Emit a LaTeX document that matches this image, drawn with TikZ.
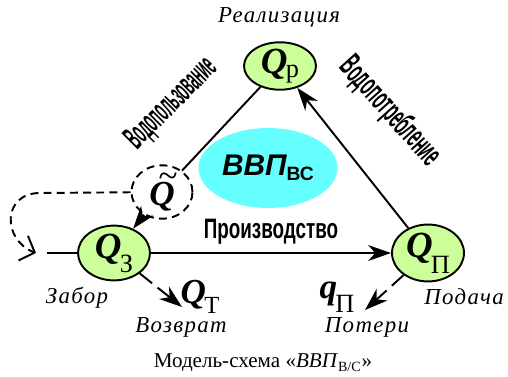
\documentclass[tikz,border=0pt]{standalone}
\usepackage{fontspec}
\setmainfont{Liberation Serif}
\setsansfont{Liberation Sans}
\newfontfamily\condfont[FakeStretch=0.67]{Liberation Sans}
\newfontfamily\tallfont[FakeStretch=0.38]{Liberation Sans}
\newfontfamily\sidefont[FakeStretch=0.45]{Liberation Sans}
\newfontfamily\labelfont[LetterSpace=6]{Liberation Serif}
\usetikzlibrary{arrows.meta,shapes.geometric}
\definecolor{nodeGreen}{RGB}{204,255,153}
\definecolor{nodeCyan}{RGB}{102,255,255}
% letter size, letter, index, drop of the index
\newcommand{\qvar}[4]{{\fontsize{#1}{#1}\selectfont\bfseries\itshape #2}\kern-1pt\raisebox{-#4}{\fontsize{15}{15}\selectfont #3}}

\begin{document}
\begin{tikzpicture}
[x=0.02cm,y=-0.02cm,
  lineDecorate/.style={-,line width=1.1pt},
  arrowDecorate/.style={lineDecorate,-{Stealth[length=13pt,width=9pt,inset=4pt]}},
  lossDecorate/.style={arrowDecorate,dash pattern=on 9pt off 4pt},
  loopDecorate/.style={lineDecorate,dash pattern=on 4.5pt off 3pt,-{Straight Barb[length=7pt,width=15pt]}},
  nodeDecorate/.style={shape=ellipse,draw,line width=1.1pt,fill=nodeGreen,
    minimum width=1.44cm,minimum height=0.9cm,inner sep=0pt},
  labelDecorate/.style={font=\fontsize{13}{15}\selectfont\labelfont\itshape},
  edgeText/.style={font=\fontsize{16}{17}\selectfont\condfont\bfseries},
  sideText/.style={font=\fontsize{19}{20}\selectfont\tallfont\bfseries}]
\useasboundingbox (0,0) rectangle (508,376);
%% balance nodes
\foreach \nodename/\x/\y/\idx/\drop in {
  qp/280/66/р/2pt, qz/114/253/З/8pt, qn/428/253/П/9pt}
{
  \node (\nodename) at (\x,\y) [nodeDecorate] {\qvar{21}{Q}{\idx}{\drop}};
}
\node (qt) at (162,192) [nodeDecorate,fill=none,dash pattern=on 4.5pt off 3pt,
  minimum width=1.22cm,minimum height=0.84cm]
  {\fontsize{20}{20}\selectfont\rlap{\raisebox{0.5em}{\kern0.25em\itshape\char"007E}}\textit{\textbf{Q}}};
\node (vvp) at (268,168) [shape=ellipse,fill=nodeCyan,minimum width=2.78cm,minimum height=1.6cm,inner sep=0pt]
  {\sffamily\bfseries{\fontsize{17}{17}\selectfont\itshape ВВП}\raisebox{-3pt}{\fontsize{11}{11}\selectfont ВС}};
%% free ends
\coordinate (inStart) at (47,253);
\coordinate (loopEnd) at (36,253);
\coordinate (retEnd) at (182,307);
\coordinate (lossEnd) at (365,310);
%% flows
\path
\foreach \startnode/\endnode/\linestyle in {
  qp/qt/lineDecorate, qt/qz/arrowDecorate, qz/qn/arrowDecorate,
  qn/qp/arrowDecorate, inStart/qz/lineDecorate,
  qz/retEnd/lossDecorate, qn/lossEnd/lossDecorate}
{
  (\startnode) edge[\linestyle] (\endnode)
};
\draw[loopDecorate] (qt) -- (40,193) .. controls (2,193) and (2,240) .. (loopEnd);
%% texts
\node (prod) at (271,232) [edgeText] {Производство};
\node (use) at (172,104) [sideText,rotate=45] {Водопользование};
\node (cons) at (390,112) [sideText,font=\fontsize{19}{20}\selectfont\sidefont\bfseries,rotate=-48] {Водопотребление};
\foreach \nodename/\x/\y/\txt in {
  real/279/17/Реализация, zabor/77/298/Забор, vozvrat/181/327/Возврат,
  poteri/367/327/Потери, podacha/464/297/Подача}
{
  \node (\nodename) at (\x,\y) [labelDecorate] {\txt};
}
\node (qT) at (200,297) {\qvar{20}{Q}{\fontsize{14}{14}\selectfont Т}{6pt}};
\node (qL) at (337,297) {\qvar{20}{q}{\fontsize{15}{15}\selectfont П}{8pt}};
\node (caption) at (263,363) {\fontsize{12}{14}\selectfont Модель-схема «\textit{ВВП}\textsubscript{В/С}»};
\end{tikzpicture}
\end{document}
